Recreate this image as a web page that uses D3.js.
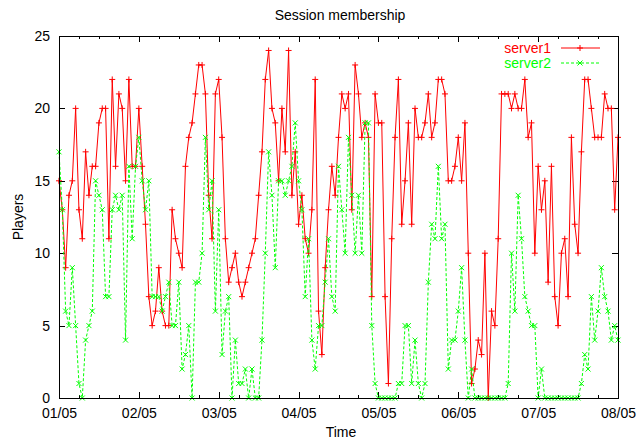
<!DOCTYPE html>
<html>
<head>
<meta charset="utf-8">
<script src="https://cdn.jsdelivr.net/npm/d3@7"></script>
<style>
  html, body { margin: 0; padding: 0; background: #fff; }
  svg { display: block; }
  text { font-family: "Liberation Sans", Arial, Helvetica, sans-serif; }
</style>
</head>
<body>
<svg id="chart" width="644" height="441"></svg>
<script>
// ---- data (hourly samples from 01/05 00:00 to 08/05 00:00) ----
const chartTitle = "Session membership";
const xAxisTitle = "Time";
const yAxisTitle = "Players";
const seriesNames = ["server1", "server2"];
const xTickLabels = ["01/05", "02/05", "03/05", "04/05", "05/05", "06/05", "07/05", "08/05"];
const yTickValues = [0, 5, 10, 15, 20, 25];

const server1 = [
  15,13,9,14,15,20,13,11,17,14,
  16,16,19,20,20,11,22,16,21,20,
  15,22,16,16,20,16,12,7,5,6,
  9,6,5,5,13,11,10,9,16,18,
  19,21,23,23,21,14,11,21,22,18,
  11,8,9,10,8,7,8,9,10,11,
  14,17,22,24,20,19,15,20,17,24,
  14,17,12,14,11,10,13,22,6,3,
  9,13,16,14,18,21,20,21,13,23,
  21,18,19,18,7,21,19,19,7,1,
  11,18,22,12,15,19,12,20,18,18,
  19,21,18,19,22,22,21,15,15,16,
  18,15,19,10,1,2,4,3,10,0,
  6,5,11,21,21,21,20,21,20,20,
  22,18,19,10,16,13,15,8,16,7,
  5,10,11,7,18,12,10,17,22,22,
  20,18,18,18,21,20,20,13,18
];
const server2 = [
  17,13,6,5,9,5,1,0,4,5,
  6,15,14,13,7,7,13,14,13,14,
  4,16,11,16,18,15,13,15,7,7,
  7,6,7,8,5,5,8,2,3,5,
  0,8,8,10,18,13,15,6,13,3,
  6,7,0,4,1,1,2,0,2,0,
  0,4,10,17,14,9,15,15,14,15,
  16,19,15,13,7,11,4,2,5,5,
  8,11,7,6,16,13,10,18,14,10,
  14,10,19,19,5,1,0,0,0,0,
  0,0,1,1,5,5,1,4,1,0,
  1,8,12,11,16,11,12,2,4,4,
  6,9,4,0,2,0,0,0,0,0,
  0,0,0,0,0,1,10,6,14,11,
  7,6,5,5,0,2,0,0,0,0,
  0,0,0,0,0,0,0,1,3,2,
  7,4,6,9,7,6,4,5,4
];

const hoursPerDay = 24;
const minorStep = 6;

// ---- layout ----
const svg = d3.select("#chart");
const L = 59, R = 618, T = 36, B = 398;
const FONT = 14;

const x = d3.scaleLinear().domain([0, (xTickLabels.length - 1) * hoursPerDay]).range([L, R]);
const y = d3.scaleLinear().domain([0, 25]).range([B, T]);

const dayTicks = xTickLabels.map((_, i) => i * hoursPerDay);
const minorTicks = d3.range(0, (xTickLabels.length - 1) * hoursPerDay + 1, minorStep).filter(h => h % hoursPerDay !== 0);

function styleAxis(g) {
  g.select(".domain").remove();
  g.selectAll("line").attr("stroke", "#000").attr("shape-rendering", "crispEdges");
  g.selectAll("text").attr("fill", "#000").style("font-size", FONT + "px")
    .style("font-family", '"Liberation Sans", Arial, sans-serif');
}

// bottom axis
svg.append("g").attr("transform", `translate(0,${B})`)
  .call(d3.axisBottom(x).tickValues(dayTicks).tickFormat((d, i) => xTickLabels[i])
    .tickSizeInner(-6).tickSizeOuter(0).tickPadding(10))
  .call(styleAxis);
svg.append("g").attr("transform", `translate(0,${B})`)
  .call(d3.axisBottom(x).tickValues(minorTicks).tickFormat("").tickSizeInner(-3).tickSizeOuter(0))
  .call(styleAxis);
// top mirror
svg.append("g").attr("transform", `translate(0,${T})`)
  .call(d3.axisTop(x).tickValues(dayTicks).tickFormat("").tickSizeInner(-6).tickSizeOuter(0))
  .call(styleAxis);
svg.append("g").attr("transform", `translate(0,${T})`)
  .call(d3.axisTop(x).tickValues(minorTicks).tickFormat("").tickSizeInner(-3).tickSizeOuter(0))
  .call(styleAxis);
// left axis
svg.append("g").attr("transform", `translate(${L},0)`)
  .call(d3.axisLeft(y).tickValues(yTickValues).tickFormat(d3.format("d"))
    .tickSizeInner(-6).tickSizeOuter(0).tickPadding(9))
  .call(styleAxis);
// right mirror
svg.append("g").attr("transform", `translate(${R},0)`)
  .call(d3.axisRight(y).tickValues(yTickValues).tickFormat("").tickSizeInner(-6).tickSizeOuter(0))
  .call(styleAxis);

// ---- series ----
const colors = ["#ff0000", "#00ff00"];
const dashes = [null, "3,2"];
const plusPath = "M-3,0H3M0,-3V3";
const crossPath = "M-2.5,-2.5L2.5,2.5M-2.5,2.5L2.5,-2.5";
const markers = [plusPath, crossPath];
const line = d3.line().x((d, i) => x(i)).y(d => y(d));

[server1, server2].forEach((data, s) => {
  const g = svg.append("g");
  g.append("path").datum(data)
    .attr("fill", "none").attr("stroke", colors[s]).attr("stroke-width", 1)
    .attr("stroke-dasharray", dashes[s]).attr("d", line);
  g.selectAll("path.m").data(data).enter().append("path").attr("class", "m")
    .attr("transform", (d, i) => `translate(${x(i)},${y(d)})`)
    .attr("d", markers[s]).attr("stroke", colors[s]).attr("stroke-width", 1).attr("fill", "none");
});

// ---- frame ----
svg.append("rect").attr("x", L + 0.5).attr("y", T + 0.5).attr("width", R - L).attr("height", B - T)
  .attr("fill", "none").attr("stroke", "#000").attr("stroke-width", 1).attr("shape-rendering", "crispEdges");

// ---- legend ----
seriesNames.forEach((name, s) => {
  const cy = 48 + s * 15;
  svg.append("text").attr("x", 551).attr("y", cy + 5).attr("text-anchor", "end")
    .attr("fill", colors[s]).style("font-size", FONT + "px").text(name);
  svg.append("line").attr("x1", 561).attr("x2", 600).attr("y1", cy).attr("y2", cy)
    .attr("stroke", colors[s]).attr("stroke-width", 1).attr("stroke-dasharray", dashes[s]);
  svg.append("path").attr("transform", `translate(580,${cy})`).attr("d", markers[s])
    .attr("stroke", colors[s]).attr("fill", "none");
});

// ---- titles ----
svg.append("text").attr("x", 340).attr("y", 20).attr("text-anchor", "middle")
  .style("font-size", FONT + "px").attr("fill", "#000").text(chartTitle);
svg.append("text").attr("x", 341).attr("y", 437).attr("text-anchor", "middle")
  .style("font-size", FONT + "px").attr("fill", "#000").text(xAxisTitle);
svg.append("text").attr("transform", "translate(23,217) rotate(-90)").attr("text-anchor", "middle")
  .style("font-size", FONT + "px").attr("fill", "#000").text(yAxisTitle);
</script>
</body>
</html>
